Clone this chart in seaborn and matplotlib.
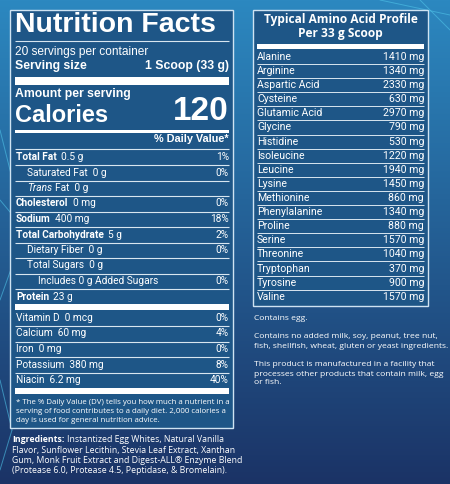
import numpy as np
import matplotlib
matplotlib.use("Agg")
import matplotlib.pyplot as plt
import seaborn as sns

sns.set_theme(style="white")
plt.rcParams['font.family'] = ['Roboto', 'DejaVu Sans']

# ---- data ----
nutr_labels = ["Total Fat", "Saturated Fat", "Trans Fat", "Cholesterol", "Sodium",
               "Total Carbohydrate", "Dietary Fiber", "Total Sugars",
               "Includes 0 g Added Sugars", "Protein"]
nutr_amounts = ["0.5 g", "0 g", "0 g", "0 mg", "400 mg", "5 g", "0 g", "0 g", "", "23 g"]
nutr_dv = ["1%", "0%", "", "0%", "18%", "2%", "0%", "", "0%", ""]
nutr_indent = [0, 1, 1, 0, 0, 0, 1, 1, 2, 0]
nutr_bold = [True, False, False, True, True, True, False, False, False, True]

vit_labels = ["Vitamin D", "Calcium", "Iron", "Potassium", "Niacin"]
vit_amounts = ["0 mcg", "60 mg", "0 mg", "380 mg", "6.2 mg"]
vit_dv = ["0%", "4%", "0%", "8%", "40%"]

amino_names = ["Alanine", "Arginine", "Aspartic Acid", "Cysteine", "Glutamic Acid", "Glycine",
               "Histidine", "Isoleucine", "Leucine", "Lysine", "Methionine", "Phenylalanine",
               "Proline", "Serine", "Threonine", "Tryptophan", "Tyrosine", "Valine"]
amino_mg = [1410, 1340, 2330, 630, 2970, 790, 530, 1220, 1940, 1450, 860, 1340,
            880, 1570, 1040, 370, 900, 1570]

W, H = 450, 484
fig = plt.figure(figsize=(4.5, 4.84), dpi=100)
ax = fig.add_axes([0, 0, 1, 1])
ax.set_xlim(0, W); ax.set_ylim(H, 0); ax.axis('off')

top = np.array([0x2c, 0x88, 0xc0]) / 255
bot = np.array([0x1b, 0x33, 0x66]) / 255
t = np.linspace(0, 1, 256)[:, None]
grad = (top * (1 - t) + bot * t)[:, None, :].repeat(2, axis=1)
ax.imshow(grad, extent=[0, W, H, 0], aspect='auto', zorder=0)

for (x1, y1), (x2, y2) in [((0, 130), (25, 230)), ((25, 230), (0, 300)), ((25, 230), (0, 200)),
                           ((0, 380), (12, 430)), ((12, 430), (0, 470)), ((380, 0), (450, 15)),
                           ((420, 0), (450, 30))]:
    ax.plot([x1, x2], [y1, y2], color='#4fc3e8', lw=0.7, alpha=0.6, zorder=1)

panel_c = '#1e5687'
wht = 'white'
ax.add_patch(plt.Rectangle((10, 10), 223, 418, facecolor=panel_c, edgecolor='#cfe3f2', lw=1, zorder=2))
ax.add_patch(plt.Rectangle((253, 10), 175, 296, facecolor=panel_c, edgecolor='#cfe3f2', lw=1, zorder=2))

L, R = 15, 229
def hline(y, lw=0.8, x0=L, x1=R):
    ax.plot([x0, x1], [y, y], color='#d8e6f0', lw=lw, zorder=3, solid_capstyle='butt')
def bar(y0, h, x0=L, x1=R):
    ax.add_patch(plt.Rectangle((x0, y0), x1 - x0, h, facecolor=wht, lw=0, zorder=3))
def txt(x, y, s, size=7.5, weight='normal', ha='left', family=None, style='normal'):
    kw = {}
    if family: kw['family'] = family
    return ax.text(x, y, s, color=wht, fontsize=size, fontweight=weight, ha=ha, va='center',
                   zorder=4, style=style, **kw)
def after(t0, s, size, gap=3, family=None, weight='normal'):
    kw = {}
    if family: kw['family'] = family
    ax.annotate(s, xy=(1, 0.5), xycoords=t0, xytext=(gap, 0), textcoords='offset points',
                color=wht, fontsize=size, va='center', ha='left', zorder=4, fontweight=weight, **kw)

HF = ['Liberation Sans', 'DejaVu Sans']
txt(L, 25, "Nutrition Facts", size=20.5, weight='bold', family=HF)
hline(41)
txt(L, 52, "20 servings per container", size=8.6, family=HF)
txt(L, 66, "Serving size", size=8.8, weight='bold', family=HF)
txt(R, 66, "1 Scoop (33 g)", size=8.8, weight='bold', ha='right', family=HF)
bar(77, 8)
txt(L, 94, "Amount per serving", size=8.8, weight='bold', family=HF)
txt(L, 115, "Calories", size=17, weight='bold', family=HF)
txt(R, 112, "120", size=24, weight='bold', ha='right', family=HF)
ax.add_patch(plt.Rectangle((L, 130), R - L, 3, facecolor=wht, lw=0, zorder=3))
txt(R, 139, "% Daily Value*", size=7.8, weight='bold', ha='right', family=HF)
hline(149)

y = 157
for lab, amt, dv, ind, b in zip(nutr_labels, nutr_amounts, nutr_dv, nutr_indent, nutr_bold):
    x = L + 1 + ind * 11
    if lab == "Trans Fat":
        t1 = txt(x, y, "Trans", size=7.3, style='italic')
        after(t1, "Fat  " + amt, 7.3, gap=2)
    elif b:
        t1 = txt(x, y, lab, size=7.3, weight='bold')
        after(t1, amt, 7.3, gap=3)
    else:
        txt(x, y, lab + ("  " + amt if amt else ""), size=7.3)
    if dv:
        txt(R, y, dv, size=7.3, ha='right')
    if lab != "Protein":
        hline(y + 8)
    y += 15.5
bar(304, 6)
y = 318
for i, (lab, amt, dv) in enumerate(zip(vit_labels, vit_amounts, vit_dv)):
    txt(L + 1, y, lab + "  " + amt, size=7.3)
    txt(R, y, dv, size=7.3, ha='right')
    if i < len(vit_labels) - 1:
        hline(y + 8)
    y += 15.5
bar(388, 6)
OS = ['Open Sans', 'DejaVu Sans']
foot = ["* The % Daily Value (DV) tells you how much a nutrient in a",
        "serving of food contributes to a daily diet. 2,000 calories a",
        "day is used for general nutrition advice."]
for i, s in enumerate(foot):
    txt(L + 1, 403 + i * 8.5, s, size=5.7, family=OS)

ing = [("Ingredients:", "Instantized Egg Whites, Natural Vanilla"),
       ("", "Flavor, Sunflower Lecithin, Stevia Leaf Extract, Xanthan"),
       ("", "Gum, Monk Fruit Extract and Digest-ALL® Enzyme Blend"),
       ("", "(Protease 6.0, Protease 4.5, Peptidase, & Bromelain).")]
for i, (b, s) in enumerate(ing):
    yy = 440 + i * 10.3
    if b:
        t1 = txt(12, yy, b, size=6.3, weight='bold', family=OS)
        after(t1, s, 6.3, gap=2, family=OS)
    else:
        txt(12, yy, s, size=6.3, family=OS)

txt(340.5, 20, "Typical Amino Acid Profile", size=8.6, weight='bold', ha='center', family=OS)
txt(340.5, 34, "Per 33 g Scoop", size=8.6, weight='bold', ha='center', family=OS)
bar(44, 5, 257, 424)
for i, (n, v) in enumerate(zip(amino_names, amino_mg)):
    yy = 57 + i * 14.1
    txt(257, yy, n, size=7.6)
    txt(424, yy, f"{v} mg", size=7.6, ha='right')
    if i < len(amino_names) - 1:
        hline(yy + 7, lw=0.7, x0=257, x1=424)

notes = [(318, "Contains egg."),
         (337, "Contains no added milk, soy, peanut, tree nut,"),
         (346, "fish, shellfish, wheat, gluten or yeast ingredients."),
         (365, "This product is manufactured in a facility that"),
         (374, "processes other products that contain milk, egg"),
         (383, "or fish.")]
for yy, s in notes:
    txt(254, yy, s, size=6.1, family=OS)

fig.savefig("out.png", dpi=100)
